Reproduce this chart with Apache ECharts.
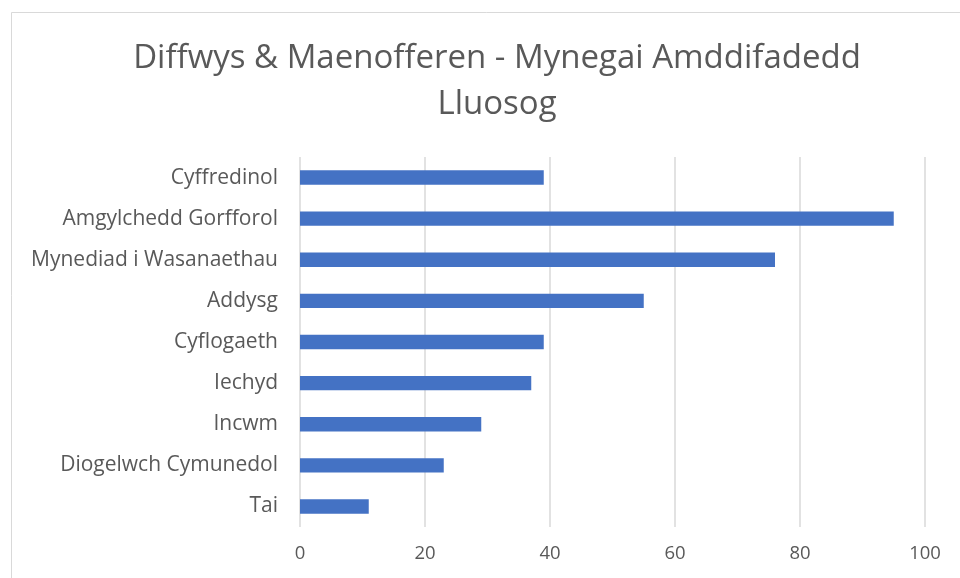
<!DOCTYPE html>
<html>
<head>
<meta charset="utf-8">
<script src="https://cdn.jsdelivr.net/npm/echarts@6/dist/echarts.min.js"></script>
<style>html,body{margin:0;padding:0;background:#fff}#c{width:960px;height:578px}</style>
</head>
<body>
<div id="c"></div>
<script>
const titleText = 'Diffwys & Maenofferen - Mynegai Amddifadedd\nLluosog';
const categories = ['Tai','Diogelwch Cymunedol','Incwm','Iechyd','Cyflogaeth','Addysg','Mynediad i Wasanaethau','Amgylchedd Gorfforol','Cyffredinol'];
const values = [11,23,29,37,39,55,76,95,39];
const xTicks = {min:0,max:100,interval:20};

const chart = echarts.init(document.getElementById('c'), null, {renderer:'canvas'});
chart.setOption({
  animation:false,
  backgroundColor:'#fff',
  graphic:[{type:'rect',shape:{x:11.5,y:12.5,width:1000,height:1000},style:{fill:'none',stroke:'#d9d9d9',lineWidth:1},silent:true}],
  title:{text:titleText,left:492,textAlign:'center',top:31,textStyle:{fontFamily:'Open Sans',fontSize:33,fontWeight:'normal',color:'#595959',lineHeight:46}},
  grid:{left:300,right:35,top:157,bottom:51,containLabel:false},
  xAxis:{type:'value',min:xTicks.min,max:xTicks.max,interval:xTicks.interval,
    axisLine:{show:false},axisTick:{show:false},
    splitLine:{lineStyle:{color:'#d9d9d9',width:1.5}},
    axisLabel:{fontFamily:'Open Sans',fontSize:18.5,color:'#595959',margin:17}},
  yAxis:{type:'category',data:categories,
    axisLine:{show:false},axisTick:{show:false},
    axisLabel:{fontFamily:'Open Sans',fontSize:21,color:'#595959',margin:22}},
  series:[{type:'bar',data:values,barWidth:'35%',itemStyle:{color:'#4472c4'}}]
});
</script>
</body>
</html>
